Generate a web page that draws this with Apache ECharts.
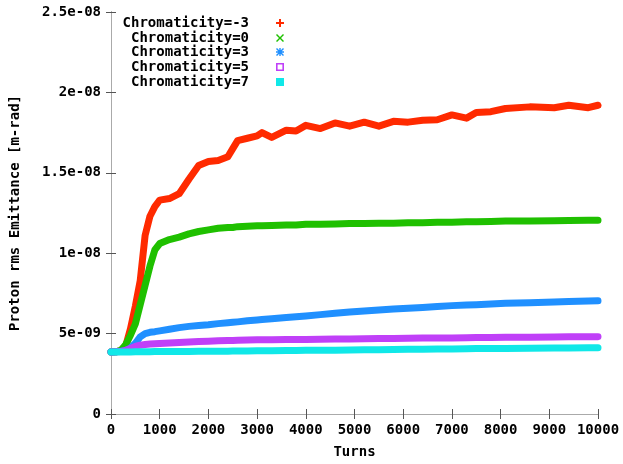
<!DOCTYPE html>
<html>
<head>
<meta charset="utf-8">
<script src="https://cdn.jsdelivr.net/npm/echarts@6/dist/echarts.min.js"></script>
<style>html,body{margin:0;padding:0;background:#fff;}#chart{width:623px;height:464px;}</style>
</head>
<body>
<div id="chart"></div>
<script>
// Turns (x values)
var turns = [0,100,200,300,400,500,600,700,800,900,1000,1200,1400,1600,1800,2000,2200,2400,2500,2600,2800,3000,3100,3300,3600,3800,4000,4300,4600,4900,5200,5500,5800,6100,6400,6700,7000,7300,7500,7800,8100,8600,9100,9400,9800,10000];
// Emittance in units of 1e-9 m-rad
var chromM3 = [3.86,3.87,3.95,4.2,5.3,6.7,8.3,11.1,12.3,12.9,13.3,13.4,13.7,14.6,15.45,15.7,15.77,16.0,16.5,17.0,17.15,17.3,17.5,17.2,17.65,17.6,17.95,17.75,18.1,17.9,18.15,17.9,18.2,18.15,18.27,18.3,18.6,18.4,18.75,18.8,19.0,19.1,19.05,19.2,19.05,19.2];
var chrom0 = [3.86,3.87,3.95,4.3,4.9,5.6,6.8,8.0,9.2,10.2,10.6,10.85,11.0,11.2,11.35,11.45,11.55,11.6,11.6,11.65,11.68,11.7,11.7,11.72,11.75,11.75,11.8,11.8,11.82,11.85,11.85,11.87,11.87,11.9,11.9,11.92,11.92,11.95,11.95,11.97,12.0,12.0,12.02,12.03,12.05,12.05];
var chrom3 = [3.86,3.87,3.9,3.95,4.1,4.4,4.8,5.0,5.08,5.12,5.17,5.27,5.37,5.45,5.5,5.55,5.62,5.67,5.7,5.73,5.8,5.85,5.88,5.93,6.0,6.05,6.1,6.18,6.26,6.34,6.4,6.47,6.53,6.58,6.63,6.68,6.74,6.78,6.8,6.84,6.88,6.92,6.96,6.99,7.02,7.04];
var chrom5 = [3.86,3.87,3.88,3.95,4.08,4.2,4.28,4.32,4.35,4.37,4.39,4.42,4.45,4.48,4.51,4.53,4.55,4.57,4.57,4.58,4.6,4.61,4.62,4.62,4.63,4.63,4.64,4.65,4.66,4.67,4.68,4.69,4.7,4.71,4.72,4.72,4.73,4.74,4.75,4.76,4.77,4.78,4.79,4.8,4.8,4.81];
var chrom7 = [3.86,3.86,3.86,3.86,3.86,3.87,3.87,3.87,3.87,3.88,3.88,3.88,3.89,3.89,3.9,3.9,3.91,3.91,3.92,3.92,3.92,3.93,3.93,3.94,3.95,3.95,3.96,3.97,3.97,3.98,3.99,4.0,4.01,4.02,4.03,4.04,4.05,4.06,4.07,4.07,4.08,4.09,4.1,4.11,4.12,4.12];
var seriesNames = ['Chromaticity=-3','Chromaticity=0','Chromaticity=3','Chromaticity=5','Chromaticity=7'];
var yTickLabels = ['0','5e-09','1e-08','1.5e-08','2e-08','2.5e-08'];
var xTickLabels = ['0','1000','2000','3000','4000','5000','6000','7000','8000','9000','10000'];

var colors = ['#ff2a00','#1fc000','#2090ff','#c040f8','#10e8e8'];
var allValues = [chromM3, chrom0, chrom3, chrom5, chrom7];
var icons = [
  'path://M3,0H5V3H8V5H5V8H3V5H0V3H3Z',
  'path://M1,0L4,3L7,0L8,1L5,4L8,7L7,8L4,5L1,8L0,7L3,4L0,1Z',
  'path://M3.3,0H4.7V3.3H8V4.7H4.7V8H3.3V4.7H0V3.3H3.3Z M1,0L4,3L7,0L8,1L5,4L8,7L7,8L4,5L1,8L0,7L3,4L0,1Z',
  'path://M0,0H8V8H0Z M1.6,1.6V6.4H6.4V1.6Z',
  'path://M0,0H8V8H0Z'
];
var font = 'DejaVu Sans Mono';
var fw = 'bold';

function pairs(vals){
  var out = [];
  for (var i = 0; i < turns.length; i++) out.push([turns[i], vals[i] * 1e-9]);
  return out;
}

var series = seriesNames.map(function(n, i){
  return {
    name: n, type: 'line', data: pairs(allValues[i]),
    showSymbol: false, symbol: 'none', smooth: false,
    lineStyle: {width: 7, color: colors[i], join: 'round', cap: 'round'},
    itemStyle: {color: colors[i]},
    emphasis: {disabled: true}, animation: false
  };
});

var rowCenters = [24, 39, 53, 68, 83];
var legends = seriesNames.map(function(n, i){
  return {
    data: [{name: n, icon: icons[i]}],
    orient: 'horizontal', align: 'right', right: 339, top: rowCenters[i] - 8,
    itemWidth: 8, itemHeight: 8, padding: 0, selectedMode: false,
    itemStyle: {borderWidth: 0},
    textStyle: {fontFamily: font, fontSize: 14, fontWeight: fw, color: '#000', padding: [0, 22, 0, 0]}
  };
});

var chart = echarts.init(document.getElementById('chart'), null, {renderer: 'canvas'});
chart.setOption({
  backgroundColor: '#fff',
  animation: false,
  color: colors,
  legend: legends,
  grid: {left: 110, right: 25, top: 12, bottom: 45, show: false},
  xAxis: [{
    type: 'value', min: 0, max: 10000, interval: 1000, position: 'bottom',
    name: 'Turns', nameLocation: 'middle', nameGap: 31,
    nameTextStyle: {fontFamily: font, fontSize: 14, fontWeight: fw, color: '#000'},
    axisLine: {show: true, lineStyle: {color: '#555', width: 1}},
    axisTick: {show: true, inside: true, length: 5, lineStyle: {color: '#555'}},
    axisLabel: {fontFamily: font, fontSize: 14, fontWeight: fw, color: '#000', margin: 9,
      formatter: function(v){ return xTickLabels[Math.round(v / 1000)]; }},
    splitLine: {show: false}
  }, {
    type: 'value', min: 0, max: 10000, interval: 1000, position: 'top',
    axisLine: {show: true, lineStyle: {color: '#aaa', width: 1}},
    axisTick: {show: true, inside: true, length: 5, lineStyle: {color: '#555'}},
    axisLabel: {show: false}, splitLine: {show: false}
  }],
  yAxis: [{
    type: 'value', min: 0, max: 2.5e-8, interval: 5e-9, position: 'left',
    name: 'Proton rms Emittance [m-rad]', nameLocation: 'middle', nameGap: 89, nameRotate: 90,
    nameTextStyle: {fontFamily: font, fontSize: 14, fontWeight: fw, color: '#000'},
    axisLine: {show: true, lineStyle: {color: '#555', width: 1}},
    axisTick: {show: true, inside: true, length: 5, lineStyle: {color: '#555'}},
    axisLabel: {fontFamily: font, fontSize: 14, fontWeight: fw, color: '#000', margin: 10,
      formatter: function(v){ return yTickLabels[Math.round(v / 5e-9)]; }},
    splitLine: {show: false}
  }, {
    type: 'value', min: 0, max: 2.5e-8, interval: 5e-9, position: 'right',
    axisLine: {show: true, lineStyle: {color: '#aaa', width: 1}},
    axisTick: {show: true, inside: true, length: 5, lineStyle: {color: '#555'}},
    axisLabel: {show: false}, splitLine: {show: false}
  }],
  series: series
});
</script>
</body>
</html>
